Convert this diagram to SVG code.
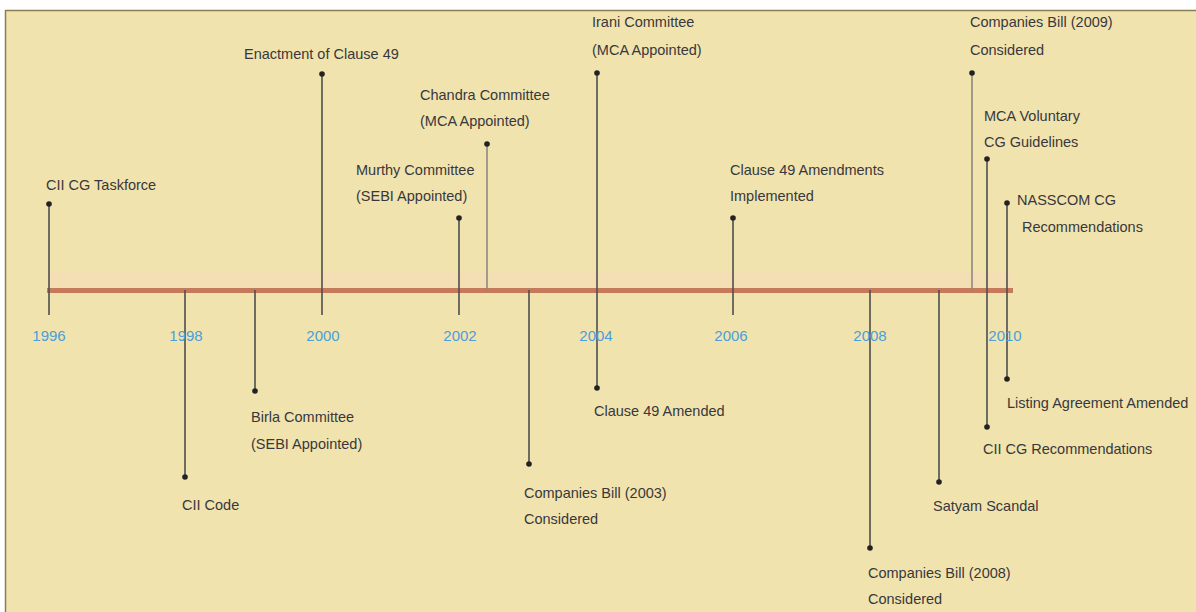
<svg xmlns="http://www.w3.org/2000/svg" width="1196" height="612" viewBox="0 0 1196 612">
  <style>
    .lbl { font-family: "Liberation Sans", Arial, sans-serif; font-size: 14.5px; fill: #38383c; }
    .yr { font-family: "Liberation Sans", Arial, sans-serif; font-size: 15px; fill: #4a9edb; text-anchor: middle; }
    .stem { stroke: #4e4e4e; stroke-width: 1.6; fill: none; }
    .stem-light { stroke: #8e8a80; stroke-width: 1.6; fill: none; }
    .dot { fill: #222; }
  </style>
  <rect x="0" y="0" width="1196" height="612" fill="#ffffff"/>
  <rect x="5" y="10" width="1191" height="602" fill="#f1e3ae"/>
  <line x1="5" y1="10.5" x2="1196" y2="10.5" stroke="#8c7d55" stroke-width="1.5"/>
  <line x1="5.5" y1="10" x2="5.5" y2="612" stroke="#8c7d55" stroke-width="1.5"/>

  <g id="timeline">
    <rect x="47" y="272" width="966" height="15" fill="#f5dcb6" opacity="0.7"/>
    <rect x="47" y="288" width="966" height="5" fill="#c47a5b"/>
  </g>

  <g id="connectors">
    <line class="stem" x1="49" y1="204" x2="49" y2="315"/>
    <line class="stem" x1="185" y1="290" x2="185" y2="477"/>
    <line class="stem" x1="255" y1="290" x2="255" y2="391"/>
    <line class="stem" x1="322" y1="74" x2="322" y2="315"/>
    <line class="stem" x1="459" y1="218" x2="459" y2="315"/>
    <line class="stem-light" x1="487" y1="144" x2="487" y2="290"/>
    <line class="stem" x1="529" y1="290" x2="529" y2="464"/>
    <line class="stem" x1="597" y1="73" x2="597" y2="388"/>
    <line class="stem" x1="733" y1="218" x2="733" y2="315"/>
    <line class="stem" x1="870" y1="290" x2="870" y2="548"/>
    <line class="stem" x1="939" y1="290" x2="939" y2="482"/>
    <line class="stem-light" x1="972" y1="73" x2="972" y2="290"/>
    <line class="stem" x1="987" y1="159" x2="987" y2="427"/>
    <line class="stem" x1="1007" y1="203" x2="1007" y2="379"/>
  </g>

  <g id="years">
    <text class="yr" x="49" y="341">1996</text>
    <text class="yr" x="186" y="341">1998</text>
    <text class="yr" x="323" y="341">2000</text>
    <text class="yr" x="460" y="341">2002</text>
    <text class="yr" x="596" y="341">2004</text>
    <text class="yr" x="731" y="341">2006</text>
    <text class="yr" x="870" y="341">2008</text>
    <text class="yr" x="1005" y="341">2010</text>
  </g>

  <g id="cii-cg-taskforce">
    <circle class="dot" cx="49" cy="204" r="2.8"/>
    <text class="lbl" x="46" y="190">CII CG Taskforce</text>
  </g>
  <g id="cii-code">
    <circle class="dot" cx="185" cy="477" r="2.8"/>
    <text class="lbl" x="182" y="510">CII Code</text>
  </g>
  <g id="birla-committee">
    <circle class="dot" cx="255" cy="391" r="2.8"/>
    <text class="lbl" x="251" y="422">Birla Committee</text>
    <text class="lbl" x="251" y="449">(SEBI Appointed)</text>
  </g>
  <g id="enactment-clause-49">
    <circle class="dot" cx="322" cy="74" r="2.8"/>
    <text class="lbl" x="244" y="59">Enactment of Clause 49</text>
  </g>
  <g id="murthy-committee">
    <circle class="dot" cx="459" cy="218" r="2.8"/>
    <text class="lbl" x="356" y="175">Murthy Committee</text>
    <text class="lbl" x="356" y="201">(SEBI Appointed)</text>
  </g>
  <g id="chandra-committee">
    <circle class="dot" cx="487" cy="144" r="2.8"/>
    <text class="lbl" x="420" y="100">Chandra Committee</text>
    <text class="lbl" x="420" y="126">(MCA Appointed)</text>
  </g>
  <g id="companies-bill-2003">
    <circle class="dot" cx="529" cy="464" r="2.8"/>
    <text class="lbl" x="524" y="498">Companies Bill (2003)</text>
    <text class="lbl" x="524" y="524">Considered</text>
  </g>
  <g id="irani-committee">
    <circle class="dot" cx="597" cy="73" r="2.8"/>
    <text class="lbl" x="592" y="27">Irani Committee</text>
    <text class="lbl" x="592" y="55">(MCA Appointed)</text>
  </g>
  <g id="clause-49-amended">
    <circle class="dot" cx="597" cy="388" r="2.8"/>
    <text class="lbl" x="594" y="416">Clause 49 Amended</text>
  </g>
  <g id="clause-49-amendments-implemented">
    <circle class="dot" cx="733" cy="218" r="2.8"/>
    <text class="lbl" x="730" y="175">Clause 49 Amendments</text>
    <text class="lbl" x="730" y="201">Implemented</text>
  </g>
  <g id="companies-bill-2008">
    <circle class="dot" cx="870" cy="548" r="2.8"/>
    <text class="lbl" x="868" y="578">Companies Bill (2008)</text>
    <text class="lbl" x="868" y="604">Considered</text>
  </g>
  <g id="satyam-scandal">
    <circle class="dot" cx="939" cy="482" r="2.8"/>
    <text class="lbl" x="933" y="511">Satyam Scandal</text>
  </g>
  <g id="companies-bill-2009">
    <circle class="dot" cx="972" cy="73" r="2.8"/>
    <text class="lbl" x="970" y="27">Companies Bill (2009)</text>
    <text class="lbl" x="970" y="55">Considered</text>
  </g>
  <g id="mca-voluntary-cg-guidelines">
    <circle class="dot" cx="987" cy="159" r="2.8"/>
    <text class="lbl" x="984" y="121">MCA Voluntary</text>
    <text class="lbl" x="984" y="147">CG Guidelines</text>
  </g>
  <g id="cii-cg-recommendations">
    <circle class="dot" cx="987" cy="427" r="2.8"/>
    <text class="lbl" x="983" y="454">CII CG Recommendations</text>
  </g>
  <g id="nasscom-cg-recommendations">
    <circle class="dot" cx="1007" cy="203" r="2.8"/>
    <text class="lbl" x="1017" y="205">NASSCOM CG</text>
    <text class="lbl" x="1022" y="232">Recommendations</text>
  </g>
  <g id="listing-agreement-amended">
    <circle class="dot" cx="1007" cy="379" r="2.8"/>
    <text class="lbl" x="1007" y="408">Listing Agreement Amended</text>
  </g>
</svg>
